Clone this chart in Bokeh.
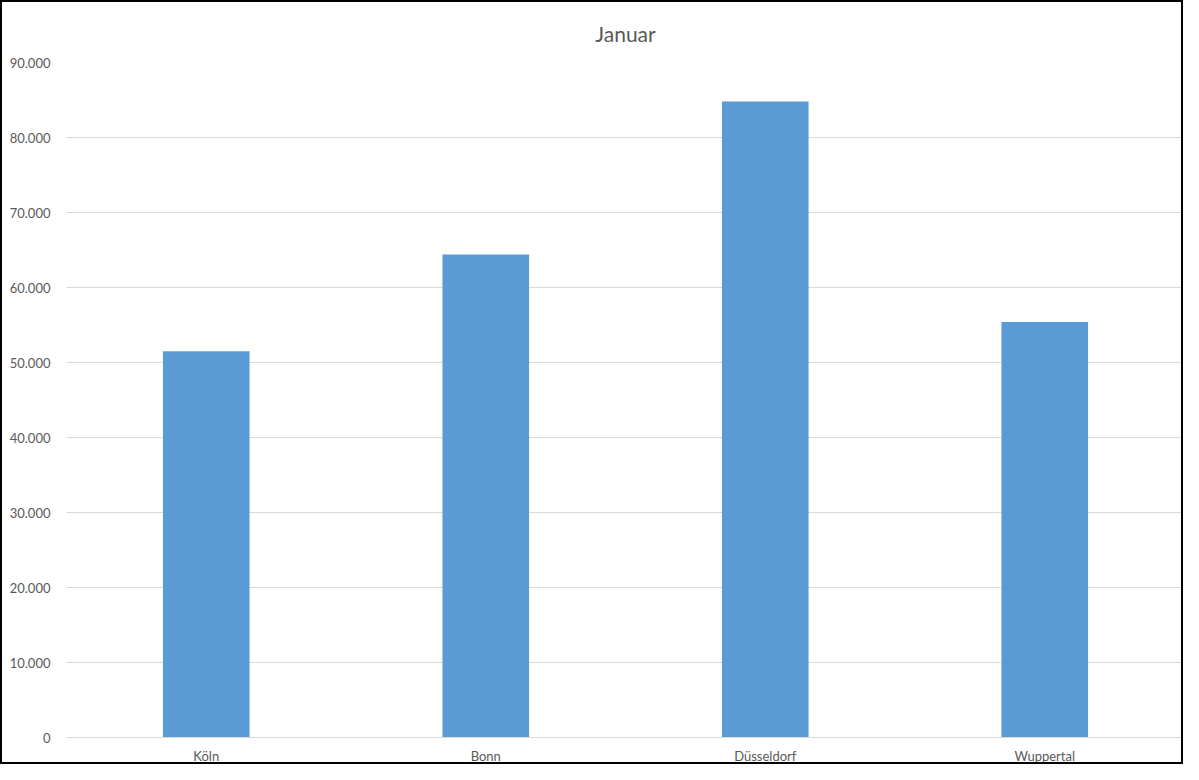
from bokeh.plotting import figure
from bokeh.models import FixedTicker, Range1d
from bokeh.embed import file_html
from bokeh.resources import INLINE

cities = ["Köln", "Bonn", "Düsseldorf", "Wuppertal"]
values = [51500, 64400, 84800, 55400]
tick_values = [0, 10000, 20000, 30000, 40000, 50000, 60000, 70000, 80000, 90000]
tick_labels = ["0", "10.000", "20.000", "30.000", "40.000", "50.000", "60.000", "70.000", "80.000", "90.000"]

FONT = "Lato"
TXT = "#595959"

p = figure(x_range=cities, y_range=Range1d(0, 90000), width=1183, height=764,
           output_backend="svg", toolbar_location=None, title="Januar",
           min_border_left=64, min_border_right=1, min_border_top=60, min_border_bottom=20)

p.vbar(x=cities, top=values, width=0.31, color="#5B9BD5", line_color=None)

p.title.align = "center"
p.title.text_font = FONT
p.title.text_font_size = "21px"
p.title.text_font_style = "normal"
p.title.text_color = TXT
p.title.standoff = 33

p.outline_line_color = None
p.xgrid.grid_line_color = None
p.ygrid.grid_line_color = "#D9D9D9"
p.ygrid.grid_line_width = 1

p.yaxis.ticker = FixedTicker(ticks=tick_values)
p.yaxis.major_label_overrides = {v: l for v, l in zip(tick_values, tick_labels)}
p.yaxis.axis_line_color = None
p.yaxis.major_tick_line_color = None
p.yaxis.minor_tick_line_color = None
p.yaxis.major_label_text_font = FONT
p.yaxis.major_label_text_font_size = "13px"
p.yaxis.major_label_text_color = TXT
p.yaxis.major_label_standoff = 10

p.xaxis.axis_line_color = "#D9D9D9"
p.xaxis.major_tick_line_color = None
p.xaxis.minor_tick_line_color = None
p.xaxis.major_label_text_font = FONT
p.xaxis.major_label_text_font_size = "13px"
p.xaxis.major_label_text_color = TXT
p.xaxis.major_label_standoff = 4

p.x_range.range_padding = 0
p.styles = {"border": "2px solid black", "box-sizing": "border-box"}

open("out.html", "w").write(file_html(p, INLINE))
